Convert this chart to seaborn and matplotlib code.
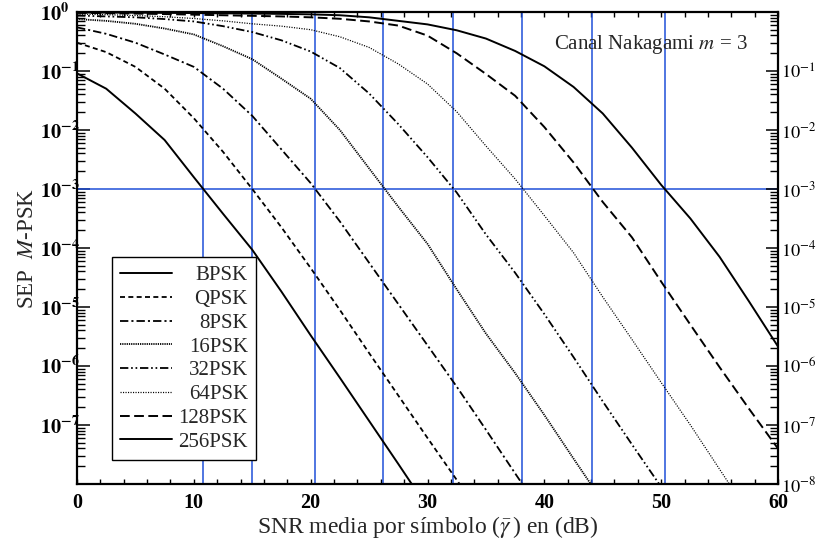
import numpy as np
import pandas as pd
import matplotlib
matplotlib.use("Agg")
import matplotlib.pyplot as plt
import seaborn as sns
from matplotlib.ticker import FixedLocator, LogLocator, MultipleLocator, NullFormatter

# ---------------- data (log10 of SEP) ----------------
snr_db = [0, 2.5, 5, 7.5, 10, 12.5, 15, 17.5, 20, 22.5, 25, 27.5, 30,
          32.5, 35, 37.5, 40, 42.5, 45, 47.5, 50, 52.5, 55, 57.5, 60]

log_sep_bpsk = [-1.04, -1.30, -1.72, -2.17, -2.80, -3.42, -4.03, -4.74, -5.48,
                -6.20, -6.93, -7.66, -8.40]
log_sep_qpsk = [-0.52, -0.68, -0.93, -1.30, -1.80, -2.37, -3.00, -3.65, -4.34,
                -5.05, -5.78, -6.50, -7.22, -7.93, -8.65]
log_sep_8psk = [-0.26, -0.37, -0.52, -0.72, -0.93, -1.30, -1.76, -2.33, -2.90,
                -3.55, -4.25, -4.95, -5.65, -6.35, -7.08, -7.82, -8.55]
log_sep_16psk = [-0.12, -0.15, -0.20, -0.28, -0.38, -0.58, -0.80, -1.13, -1.47,
                 -2.00, -2.65, -3.30, -3.93, -4.70, -5.45, -6.12, -6.83, -7.57, -8.30]
log_sep_32psk = [-0.06, -0.075, -0.09, -0.12, -0.16, -0.24, -0.34, -0.48, -0.67,
                 -0.95, -1.38, -1.90, -2.46, -3.06, -3.77, -4.42, -5.12, -5.85,
                 -6.60, -7.33, -8.05]
log_sep_64psk = [-0.035, -0.045, -0.06, -0.08, -0.11, -0.15, -0.20, -0.24, -0.30,
                 -0.42, -0.60, -0.88, -1.22, -1.69, -2.27, -2.83, -3.45, -4.08,
                 -4.83, -5.55, -6.28, -7.00, -7.75, -8.50]
log_sep_128psk = [-0.015, -0.02, -0.027, -0.035, -0.045, -0.055, -0.065, -0.075,
                  -0.09, -0.115, -0.16, -0.23, -0.40, -0.70, -1.05, -1.42, -1.95,
                  -2.55, -3.22, -3.82, -4.57, -5.30, -6.02, -6.72, -7.40]
log_sep_256psk = [-0.008, -0.01, -0.012, -0.015, -0.018, -0.022, -0.027, -0.032,
                  -0.04, -0.055, -0.09, -0.15, -0.21, -0.31, -0.45, -0.66, -0.92,
                  -1.27, -1.72, -2.30, -2.93, -3.50, -4.15, -4.90, -5.67]

labels = ["BPSK", "QPSK", "8PSK", "16PSK", "32PSK", "64PSK", "128PSK", "256PSK"]
series = [log_sep_bpsk, log_sep_qpsk, log_sep_8psk, log_sep_16psk,
          log_sep_32psk, log_sep_64psk, log_sep_128psk, log_sep_256psk]

ref_sep = 1e-3
ref_snr = [10.8, 15.0, 20.4, 26.2, 32.2, 38.1, 44.1, 50.3]

ytick_exp = [0, -1, -2, -3, -4, -5, -6, -7, -8]
xtick_vals = [0, 10, 20, 30, 40, 50, 60]

# ---------------- styling ----------------
sns.set_theme(style="ticks")
plt.rcParams["font.family"] = ["Liberation Serif", "DejaVu Serif"]
plt.rcParams["mathtext.fontset"] = "stix"
plt.rcParams["lines.scale_dashes"] = False
plt.rcParams["axes.edgecolor"] = "black"
plt.rcParams["xtick.color"] = "black"
plt.rcParams["ytick.color"] = "black"

styles = [
    dict(linestyle="-", lw=1.4),
    dict(linestyle=(0, (3.6, 2.4)), lw=1.3),
    dict(linestyle=(0, (6, 2.2, 1.5, 2.2)), lw=1.3),
    dict(linestyle=(0, (0.9, 0.7)), lw=1.3),
    dict(linestyle=(0, (6, 2, 1.2, 2, 1.2, 2)), lw=1.3),
    dict(linestyle=(0, (0.8, 1.0)), lw=0.9),
    dict(linestyle=(0, (7, 3.2)), lw=1.4),
    dict(linestyle="-", lw=1.4),
]

blue = "#1f4fd8"

fig = plt.figure(figsize=(8.16, 5.42), dpi=100)
ax = fig.add_axes([77 / 816, 1 - 484 / 542, 701 / 816, 472 / 542])

rows = []
for name, vals in zip(labels, series):
    for x, v in zip(snr_db, vals):
        rows.append({"snr": x, "sep": 10.0 ** v, "mod": name})
df = pd.DataFrame(rows)

for name, st in zip(labels, styles):
    sub = df[df["mod"] == name]
    sns.lineplot(data=sub, x="snr", y="sep", ax=ax, color="black",
                 estimator=None, sort=False, errorbar=None, legend=False,
                 label=name, zorder=3, **st)

ax.axhline(ref_sep, color=blue, lw=1.1, zorder=2)
for xv in ref_snr:
    ax.axvline(xv, color=blue, lw=1.1, zorder=2)

ax.set_yscale("log")
ax.set_ylim(1e-8, 1)
ax.set_xlim(0, 60)

# x ticks
ax.xaxis.set_major_locator(FixedLocator(xtick_vals))
ax.xaxis.set_minor_locator(MultipleLocator(2))
ax.set_xticks(xtick_vals, labels=[str(v) for v in xtick_vals],
              fontsize=14.5, fontweight="bold")
ax.tick_params(axis="x", which="both", direction="in", top=True, bottom=True,
               length=3.4, width=1.0, pad=6.5)

# y ticks (left)
major_vals = [10.0 ** e for e in ytick_exp]
left_labels = [r"$\mathbf{10^{%d}}$" % e if e != -8 else "" for e in ytick_exp]
ax.set_yticks(major_vals, labels=left_labels, fontsize=14.5)
ax.yaxis.set_minor_locator(LogLocator(base=10, subs=np.arange(2, 10), numticks=30))
ax.yaxis.set_minor_formatter(NullFormatter())
ax.tick_params(axis="y", which="major", direction="in", left=True, right=False,
               length=9, width=1.1, pad=26.6)
ax.tick_params(axis="y", which="minor", direction="in", left=True, right=False,
               length=6, width=1.0)
for t in ax.get_yticklabels():
    t.set_ha("left")

for sp in ax.spines.values():
    sp.set_linewidth(1.6)
    sp.set_color("black")

# right-side labels via twin axis
ax2 = ax.twinx()
ax2.set_yscale("log")
ax2.set_ylim(1e-8, 1)
right_labels = [r"$10^{%d}$" % e if e != 0 else "" for e in ytick_exp]
ax2.set_yticks(major_vals, labels=right_labels, fontsize=13.2)
ax2.yaxis.set_minor_locator(LogLocator(base=10, subs=np.arange(2, 10), numticks=30))
ax2.yaxis.set_minor_formatter(NullFormatter())
ax2.tick_params(axis="y", which="major", direction="in", right=True, left=False,
                length=9, width=1.1, pad=2.2)
ax2.tick_params(axis="y", which="minor", direction="in", right=True, left=False,
                length=6, width=1.0)
for sp in ax2.spines.values():
    sp.set_visible(False)
ax2.set_ylabel("")

ax.set_xlabel(r"SNR media por símbolo ($\bar{\gamma}\,$) en (dB)", fontsize=17, labelpad=1)
ax.set_ylabel(r"SEP  $\mathit{M}$-PSK", fontsize=16.5, labelpad=1.5)

ax.text(0.957, 0.932, r"Canal Nakagami $\mathit{m}$ = 3", transform=ax.transAxes,
        ha="right", va="center", fontsize=15)

leg = ax.legend(loc="lower left", bbox_to_anchor=(0.0495, 0.051), borderaxespad=0,
                fontsize=15, frameon=True, fancybox=False, edgecolor="black",
                framealpha=1, handlelength=2.5, handletextpad=0.3,
                labelspacing=0.2, borderpad=0.4)
leg.get_frame().set_linewidth(1.0)
leg.set_zorder(10)

# right-align legend labels inside the fixed legend box
fig.canvas.draw()
r = fig.canvas.get_renderer()
texts = leg.get_texts()
widths = [t.get_window_extent(r).width for t in texts]
wmax = max(widths)
for t, wi in zip(texts, widths):
    t.set_position((wmax - wi, 0))

fig.savefig("out.png", dpi=100)
